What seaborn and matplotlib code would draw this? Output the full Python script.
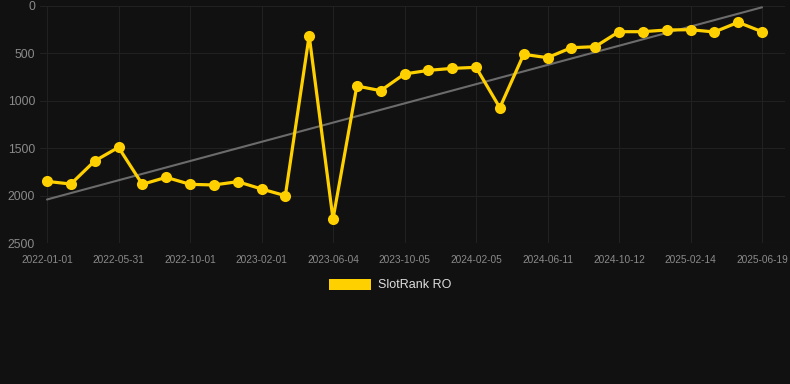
import numpy as np
import pandas as pd
import matplotlib
matplotlib.use("Agg")
import matplotlib.pyplot as plt
from matplotlib.patches import Patch
import seaborn as sns

tick_labels = ["2022-01-01", "2022-05-31", "2022-10-01", "2023-02-01", "2023-06-04",
               "2023-10-05", "2024-02-05", "2024-06-11", "2024-10-12", "2025-02-14",
               "2025-06-19"]
ranks = [1850, 1878, 1635, 1491, 1881, 1807, 1881, 1888, 1853, 1930, 2001,
         313, 2247, 844, 893, 717, 679, 658, 647, 1073, 510, 545, 440, 429,
         271, 271, 253, 250, 274, 172, 271]
series_name = "SlotRank RO"

idx = np.arange(len(ranks))
df = pd.DataFrame({"idx": idx, "rank": ranks})

sns.set_theme(style="dark")
plt.rcParams["font.family"] = ["Liberation Sans", "DejaVu Sans"]
bg = "#111111"
fig = plt.figure(figsize=(7.9, 3.84), dpi=100, facecolor=bg)
ax = fig.add_axes([40 / 790, 1 - 243 / 384, 745 / 790, 237 / 384])
ax.set_facecolor(bg)

# trend line (least squares fit)
coef = np.polyfit(idx, ranks, 1)
ax.plot([idx[0], idx[-1]], np.polyval(coef, [idx[0], idx[-1]]), color="#6b6b6b", lw=1.5, zorder=2)

sns.lineplot(data=df, x="idx", y="rank", ax=ax, color="#ffd000", lw=2.3, marker="o",
             markersize=8, markeredgewidth=0, zorder=3, solid_joinstyle="miter")

px = 715 / 30
ax.set_xlim(-7 / px, 30 + 23 / px)
ax.set_ylim(2500, 0)
ax.set_xticks(idx[::3])
ax.set_xticklabels(tick_labels)
ax.set_yticks([0, 500, 1000, 1500, 2000, 2500])
ax.set_yticklabels(["0", "500", "1000", "1500", "2000", "2500"])
ax.tick_params(axis="x", colors="#8a8a8a", labelsize=7.3, length=0, pad=8.5)
ax.tick_params(axis="y", colors="#8a8a8a", labelsize=8.8, length=0, pad=3.5)
ax.grid(True, color="#212121", lw=0.8)
ax.set_xlabel("")
ax.set_ylabel("")
for s in ax.spines.values():
    s.set_visible(False)
ax.axhline(2500, color="#2a2a2a", lw=0.8, zorder=1)

leg = fig.legend(handles=[Patch(facecolor="#ffd000", edgecolor="none", label=series_name)],
                 loc="center", bbox_to_anchor=(390 / 790, 1 - 285 / 384), frameon=False,
                 handlelength=3.4, handleheight=1.0, fontsize=9, labelcolor="#dddddd",
                 handletextpad=0.5)

fig.savefig("out.png", dpi=100, facecolor=bg)
